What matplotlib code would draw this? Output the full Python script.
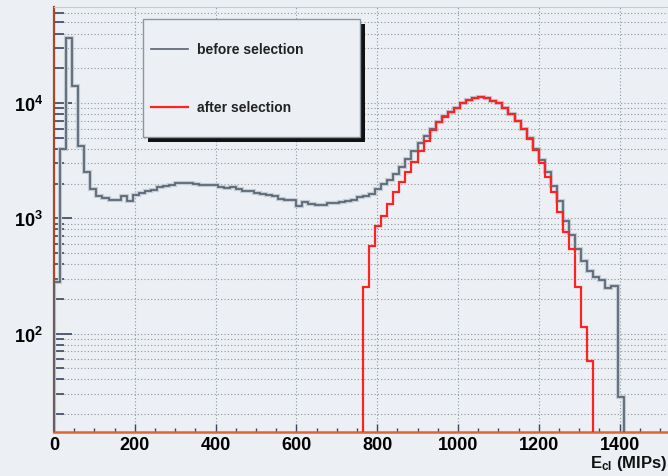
import numpy as np
import matplotlib
matplotlib.use("Agg")
import matplotlib.pyplot as plt
import matplotlib.ticker as mticker
from matplotlib.patches import Rectangle
from matplotlib.lines import Line2D

plt.rcParams["font.family"] = ["Liberation Sans", "DejaVu Sans"]
plt.rcParams["mathtext.fontset"] = "custom"
plt.rcParams["mathtext.rm"] = "Liberation Sans"
plt.rcParams["mathtext.bf"] = "Liberation Sans:bold"

# ─── Data: cluster energy histograms (bin width 15 MIPs) ─────────────────────
bin_width = 15
before_start = 0
before_counts = [
    280, 4000, 36600, 14000, 4240, 2520, 1780, 1570, 1500, 1450,
    1450, 1560, 1420, 1600, 1650, 1720, 1760, 1870, 1900, 1960,
    2020, 2030, 2020, 2000, 1950, 1950, 1940, 1870, 1830, 1850,
    1800, 1730, 1720, 1660, 1640, 1580, 1560, 1480, 1450, 1440,
    1290, 1380, 1340, 1300, 1310, 1350, 1360, 1380, 1420, 1450,
    1530, 1560, 1620, 1800, 2000, 2150, 2400, 2800, 3250, 3800,
    4500, 5200, 6000, 6850, 7700, 8350, 9000, 10000, 10700, 11100,
    11300, 11100, 10500, 9900, 9000, 8000, 7000, 6000, 5000, 4000,
    3200, 2500, 1900, 1400, 950, 720, 540, 430, 350, 310,
    290, 250, 260, 28,
]
after_start = 765
after_counts = [
    255, 570, 860, 1050, 1330, 1690, 2070, 2500, 3100, 3800,
    4700, 5800, 6800, 7600, 8350, 9000, 10000, 10700, 11100, 11300,
    11100, 10500, 9900, 9000, 8000, 7000, 5900, 4900, 3900, 3000,
    2300, 1700, 1140, 760, 540, 255, 114, 58,
]
x_ticks = [0, 200, 400, 600, 800, 1000, 1200, 1400]
y_ticks = [100, 1000, 10000]
y_tick_labels = [r"$\mathbf{10^{2}}$", r"$\mathbf{10^{3}}$", r"$\mathbf{10^{4}}$"]

before_edges = before_start + bin_width * np.arange(len(before_counts) + 1)
after_edges = after_start + bin_width * np.arange(len(after_counts) + 1)

# ─── Figure ──────────────────────────────────────────────────────────────────
bg = "#ecf0f4"
gray_line = "#56616e"
red_line = "#ff2222"
tick_col = "#3a4860"

fig = plt.figure(figsize=(6.68, 4.77), dpi=100, facecolor=bg)
ax = fig.add_axes([54 / 668, 1 - 432.7 / 477, 1 - 54 / 668, (432.7 - 8) / 477])
ax.set_facecolor(bg)

# halo + histogram lines
ax.stairs(before_counts, before_edges, baseline=1, color="#c2ccd6",
          linewidth=3.0, zorder=2)
ax.stairs(before_counts, before_edges, baseline=1, color=gray_line,
          linewidth=1.2, zorder=3)
ax.stairs(after_counts, after_edges, baseline=1, color=red_line,
          linewidth=1.6, zorder=4)

ax.set_yscale("log")
ax.set_xlim(0, 1520)
ax.set_ylim(14.1, 68000)

ax.xaxis.set_major_locator(mticker.FixedLocator(x_ticks))
ax.xaxis.set_minor_locator(mticker.MultipleLocator(50))
ax.yaxis.set_major_locator(mticker.FixedLocator(y_ticks))
ax.yaxis.set_major_formatter(mticker.FixedFormatter(y_tick_labels))
ax.yaxis.set_minor_locator(mticker.LogLocator(base=10, subs=np.arange(2, 10)))
ax.yaxis.set_minor_formatter(mticker.NullFormatter())

ax.tick_params(axis="x", which="major", direction="in", length=6, width=1,
               color=tick_col, labelsize=13, pad=3)
ax.tick_params(axis="x", which="minor", direction="in", length=3, width=1,
               color=tick_col)
ax.tick_params(axis="y", which="major", direction="in", length=13, width=1.2,
               color=tick_col, labelsize=13, pad=8)
ax.tick_params(axis="y", which="minor", direction="in", length=7, width=1.2,
               color=tick_col)
for lab in ax.get_xticklabels():
    lab.set_fontweight("bold")

grid_kw = dict(color="#8e969e", linewidth=0.8, linestyle=(0, (1, 2)))
ax.grid(axis="x", which="major", **grid_kw)
ax.grid(axis="y", which="both", **grid_kw)
ax.set_axisbelow(True)

ax.spines["left"].set_color("#a8482c")
ax.spines["left"].set_linewidth(1.6)
ax.spines["bottom"].set_color("#de6430")
ax.spines["bottom"].set_linewidth(1.8)
ax.spines["top"].set_color("#c6ccd2")
ax.spines["right"].set_visible(False)

fig.text(667 / 668, 1 - 468 / 477, r"$\mathbf{E_{cl}}$ (MIPs)", ha="right",
         va="baseline", fontsize=12, fontweight="bold", color="#111111")

# ─── Legend box with shadow ──────────────────────────────────────────────────
W, H = 668, 477
def fx(px):
    return px / W
def fy(py):
    return 1 - py / H

fig.patches.append(Rectangle((fx(148), fy(143)), fx(360) - fx(143),
                             fy(20) - fy(138), transform=fig.transFigure,
                             facecolor="#111111", edgecolor="none", zorder=5))
fig.patches.append(Rectangle((fx(143), fy(138)), fx(360) - fx(143),
                             fy(20) - fy(138), transform=fig.transFigure,
                             facecolor=bg, edgecolor="#8a96a4", linewidth=1.0,
                             zorder=6))
fig.lines.append(Line2D([fx(151), fx(188)], [fy(50), fy(50)],
                        transform=fig.transFigure, color=gray_line,
                        linewidth=1.2, zorder=7))
fig.lines.append(Line2D([fx(151), fx(188)], [fy(108), fy(108)],
                        transform=fig.transFigure, color=red_line,
                        linewidth=1.6, zorder=7))
fig.text(fx(197), fy(50), "before selection", ha="left", va="center",
         fontsize=10, fontweight="bold", color="#222222", zorder=8)
fig.text(fx(197), fy(108), "after selection", ha="left", va="center",
         fontsize=10, fontweight="bold", color="#222222", zorder=8)

fig.savefig("out.png", dpi=100, facecolor=bg)
